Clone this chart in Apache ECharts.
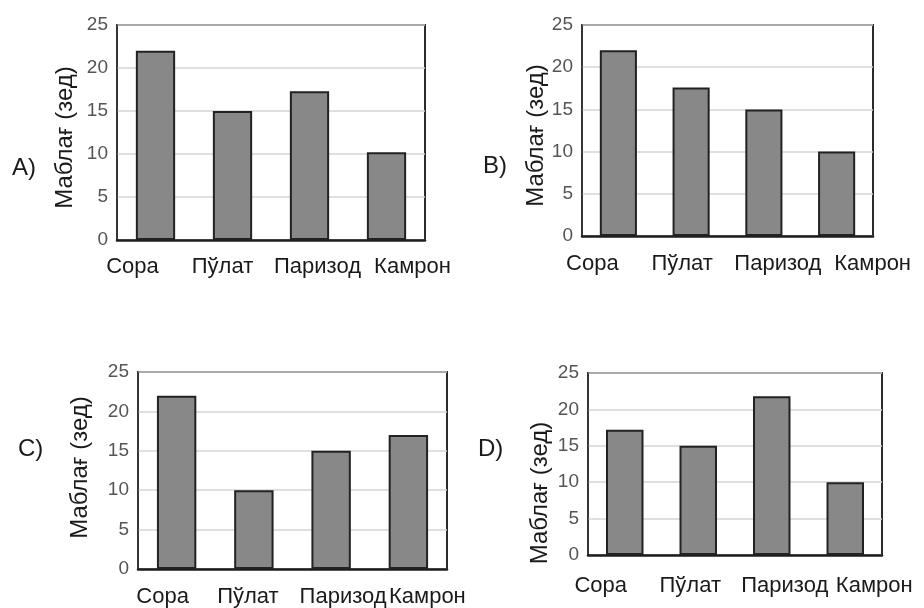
<!DOCTYPE html>
<html>
<head>
<meta charset="utf-8">
<script src="https://cdn.jsdelivr.net/npm/echarts@6/dist/echarts.min.js"></script>
<style>
  html, body { margin: 0; padding: 0; background: #fff; }
  #chart { width: 924px; height: 608px; }
</style>
</head>
<body>
<div id="chart"></div>
<script>
// Names shown under every chart
const categories = ['Сора', 'Пўлат', 'Паризод', 'Камрон'];
const yTicks = { min: 0, max: 25, interval: 5 };
const yName = 'Маблағ (зед)';

// Amounts for each variant
const valuesA = [22, 15, 17.3, 10.2];
const valuesB = [22, 17.6, 15, 10];
const valuesC = [22, 10, 15, 17];
const valuesD = [17.2, 15, 21.8, 10];
const panelLabels = ['A)', 'B)', 'C)', 'D)'];

// Layout of the four small charts
const panels = [
  { values: valuesA, grid: { left: 117, top: 25, width: 308, height: 215 }, shift: [-23, -10, 8, 26], labelMargin: 16, nameGap: 40, nameShift: 5, tag: { left: 12, top: 156 } },
  { values: valuesB, grid: { left: 582, top: 25, width: 291, height: 211 }, shift: [-26, -9, 14, 36], labelMargin: 17, nameGap: 32, nameShift: 5, tag: { left: 483, top: 154 } },
  { values: valuesC, grid: { left: 138, top: 372, width: 309, height: 197 }, shift: [-14, -6, 12, 19], labelMargin: 17, nameGap: 46, nameShift: -3, tag: { left: 18, top: 437 } },
  { values: valuesD, grid: { left: 588, top: 373, width: 294, height: 182 }, shift: [-24, -8, 13, 29], labelMargin: 20, nameGap: 36, nameShift: 29, tag: { left: 478, top: 437 } }
];

const FONT = '"Liberation Sans", Arial, sans-serif';

const option = {
  animation: false,
  backgroundColor: '#ffffff',
  title: [],
  grid: [],
  xAxis: [],
  yAxis: [],
  series: []
};

panels.forEach((p, i) => {
  option.grid.push(Object.assign({
    show: true,
    borderColor: '#2b2b2b',
    borderWidth: 2,
    backgroundColor: '#ffffff',
    containLabel: false
  }, p.grid));

  // per-label horizontal nudge done with rich-text padding
  const rich = {};
  p.shift.forEach((d, k) => {
    rich['c' + k] = {
      fontFamily: FONT,
      fontSize: 22,
      color: '#1a1a1a',
      padding: d >= 0 ? [0, 0, 0, 2 * d] : [0, -2 * d, 0, 0]
    };
  });

  option.xAxis.push({
    type: 'category',
    gridIndex: i,
    data: categories,
    axisLine: { show: true, lineStyle: { color: '#1e1e1e', width: 2.5 } },
    axisTick: { show: false },
    splitLine: { show: false },
    axisLabel: {
      interval: 0,
      margin: p.labelMargin,
      formatter: (v, idx) => '{c' + idx + '|' + v + '}',
      rich: rich
    }
  });

  const ns = p.nameShift;
  option.yAxis.push({
    type: 'value',
    gridIndex: i,
    min: yTicks.min,
    max: yTicks.max,
    interval: yTicks.interval,
    name: yName,
    nameLocation: 'middle',
    nameRotate: 90,
    nameGap: p.nameGap,
    nameTextStyle: {
      fontFamily: FONT,
      fontSize: 24,
      color: '#1a1a1a',
      padding: ns >= 0 ? [0, 2 * ns, 0, 0] : [0, 0, 0, -2 * ns]
    },
    axisLine: { show: true, lineStyle: { color: '#3a3a3a', width: 1.5 } },
    axisTick: { show: false },
    axisLabel: {
      margin: 9,
      fontFamily: FONT,
      fontSize: 19,
      color: '#555555'
    },
    splitLine: { show: true, lineStyle: { color: '#d4d4d4', width: 1.5 } }
  });

  option.series.push({
    type: 'bar',
    xAxisIndex: i,
    yAxisIndex: i,
    data: p.values,
    barWidth: '51%',
    itemStyle: {
      color: '#888888',
      borderColor: '#222222',
      borderWidth: 2
    },
    silent: true
  });

  option.title.push({
    text: panelLabels[i],
    left: p.tag.left,
    top: p.tag.top,
    padding: 0,
    textStyle: {
      fontFamily: FONT,
      fontSize: 24,
      fontWeight: 'normal',
      color: '#1a1a1a'
    }
  });
});

const chart = echarts.init(document.getElementById('chart'), null, { renderer: 'canvas' });
chart.setOption(option);
</script>
</body>
</html>
